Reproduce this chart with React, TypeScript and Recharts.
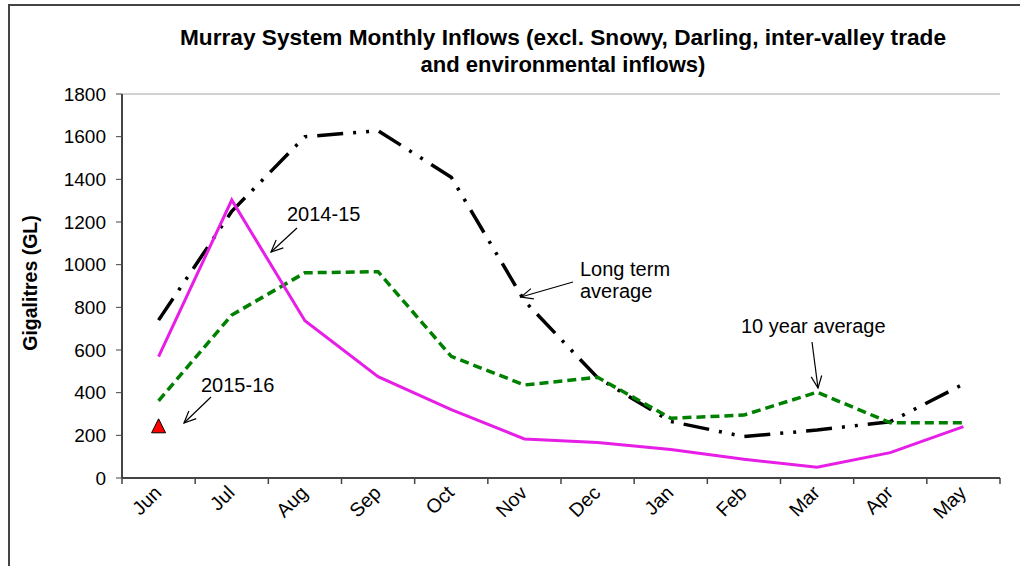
import { LineChart, Line, XAxis, YAxis, CartesianGrid, Customized } from 'recharts';

const FONT = 'Liberation Sans, Arial, sans-serif';

const months = ['Jun', 'Jul', 'Aug', 'Sep', 'Oct', 'Nov', 'Dec', 'Jan', 'Feb', 'Mar', 'Apr', 'May'];
const longTermAvg = [740, 1250, 1600, 1628, 1410, 830, 470, 265, 194, 225, 264, 440];
const tenYearAvg = [362, 764, 962, 967, 570, 436, 472, 280, 295, 402, 259, 259];
const season1415 = [569, 1303, 737, 475, 320, 183, 166, 134, 88, 50, 119, 241];
const season1516 = [240, null, null, null, null, null, null, null, null, null, null, null];
const yTicks = [0, 200, 400, 600, 800, 1000, 1200, 1400, 1600, 1800];

const data = months.map((m, i) => ({
    month: m,
    longTerm: longTermAvg[i],
    tenYear: tenYearAvg[i],
    s1415: season1415[i],
    s1516: season1516[i],
}));

const PLOT_LEFT = 122;
const PLOT_RIGHT = 1000;
const BAND = (PLOT_RIGHT - PLOT_LEFT) / months.length;

const MonthTick = (props: any) => {
    const { x, y, payload, index } = props;
    const tx = x + 4;
    const ty = y + 16;
    return (
        <g>
            <line x1={x - BAND / 2} y1={y} x2={x - BAND / 2} y2={y + 6} stroke="#444" strokeWidth={1.5} />
            {index === months.length - 1 && (
                <line x1={x + BAND / 2} y1={y} x2={x + BAND / 2} y2={y + 6} stroke="#444" strokeWidth={1.5} />
            )}
            <text
                x={tx}
                y={ty}
                transform={`rotate(-45, ${tx}, ${ty})`}
                textAnchor="end"
                fontSize={19.5}
                fontFamily={FONT}
                fill="#000"
            >
                {payload.value}
            </text>
        </g>
    );
};

const TriangleDot = (props: any) => {
    const { cx, cy, value } = props;
    if (value == null || cx == null || cy == null) return null;
    return <path d={`M${cx} ${cy - 8} L${cx + 7} ${cy + 6} L${cx - 7} ${cy + 6} Z`} fill="#ff0000" stroke="#000" strokeWidth={1} />;
};

const Arrow = ({ x1, y1, x2, y2 }: { x1: number; y1: number; x2: number; y2: number }) => {
    const a = Math.atan2(y2 - y1, x2 - x1);
    const len = 13;
    const spread = 0.42;
    const hx1 = x2 - len * Math.cos(a - spread);
    const hy1 = y2 - len * Math.sin(a - spread);
    const hx2 = x2 - len * Math.cos(a + spread);
    const hy2 = y2 - len * Math.sin(a + spread);
    return (
        <g stroke="#000" strokeWidth={1.2} fill="none">
            <line x1={x1} y1={y1} x2={x2} y2={y2} />
            <polyline points={`${hx1},${hy1} ${x2},${y2} ${hx2},${hy2}`} />
        </g>
    );
};

const Overlay = () => (
    <g fontFamily={FONT}>
        <path d="M1020 5 H9 V566" fill="none" stroke="#444" strokeWidth={2} />
        <text x={563} y={45} textAnchor="middle" fontSize={22} fontWeight="bold" fill="#000" textLength={766} lengthAdjust="spacingAndGlyphs">
            Murray System Monthly Inflows (excl. Snowy, Darling, inter-valley trade
        </text>
        <text x={563} y={72} textAnchor="middle" fontSize={22} fontWeight="bold" fill="#000">
            and environmental inflows)
        </text>
        <text x={37} y={283} transform="rotate(-90, 37, 283)" textAnchor="middle" fontSize={19.5} fontWeight="bold" fill="#000">
            Gigalitres (GL)
        </text>
        <text x={287} y={221} fontSize={20} fill="#000">2014-15</text>
        <Arrow x1={297} y1={228} x2={271} y2={252} />
        <text x={201} y={392} fontSize={20} fill="#000">2015-16</text>
        <Arrow x1={211} y1={397} x2={184} y2={423} />
        <text x={580} y={276} fontSize={20} fill="#000">Long term</text>
        <text x={580} y={298} fontSize={20} fill="#000">average</text>
        <Arrow x1={573} y1={282} x2={521} y2={297} />
        <text x={741} y={333} fontSize={20} fill="#000">10 year average</text>
        <Arrow x1={812} y1={342} x2={818} y2={388} />
    </g>
);

export default function App() {
    return (
        <div style={{ position: 'absolute', left: 0, top: 0, width: 1020, height: 566, background: '#fff' }}>
            <LineChart width={1020} height={566} data={data} margin={{ top: 94, right: 20, bottom: 0, left: 60 }}>
                <CartesianGrid vertical={false} stroke="#a6a6a6" strokeWidth={1.2} />
                <XAxis
                    dataKey="month"
                    height={88}
                    padding={{ left: BAND / 2, right: BAND / 2 }}
                    tickSize={0}
                    tickMargin={0}
                    tickLine={false}
                    axisLine={{ stroke: '#444', strokeWidth: 2 }}
                    tick={<MonthTick />}
                    interval={0}
                />
                <YAxis
                    yAxisId="left"
                    width={62}
                    domain={[0, 1800]}
                    ticks={yTicks}
                    interval={0}
                    tickSize={6}
                    tickMargin={10}
                    axisLine={{ stroke: '#444', strokeWidth: 2 }}
                    tickLine={{ stroke: '#444' }}
                    tick={{ fontSize: 19, fill: '#000', fontFamily: FONT }}
                />
                <YAxis yAxisId="right" orientation="right" width={0} tick={false} tickLine={false} axisLine={{ stroke: '#a0a0a0', strokeWidth: 2 }} />
                <Line
                    yAxisId="left"
                    dataKey="longTerm"
                    stroke="#000"
                    strokeWidth={3.5}
                    strokeDasharray="26 10 3 10 3 10"
                    dot={false}
                    isAnimationActive={false}
                />
                <Line
                    yAxisId="left"
                    dataKey="tenYear"
                    stroke="#008000"
                    strokeWidth={3.5}
                    strokeDasharray="9 5"
                    dot={false}
                    isAnimationActive={false}
                />
                <Line
                    yAxisId="left"
                    dataKey="s1415"
                    stroke="#e61ee6"
                    strokeWidth={3}
                    dot={false}
                    isAnimationActive={false}
                />
                <Line
                    yAxisId="left"
                    dataKey="s1516"
                    stroke="none"
                    dot={<TriangleDot />}
                    isAnimationActive={false}
                />
                <Customized component={Overlay} />
            </LineChart>
        </div>
    );
}
